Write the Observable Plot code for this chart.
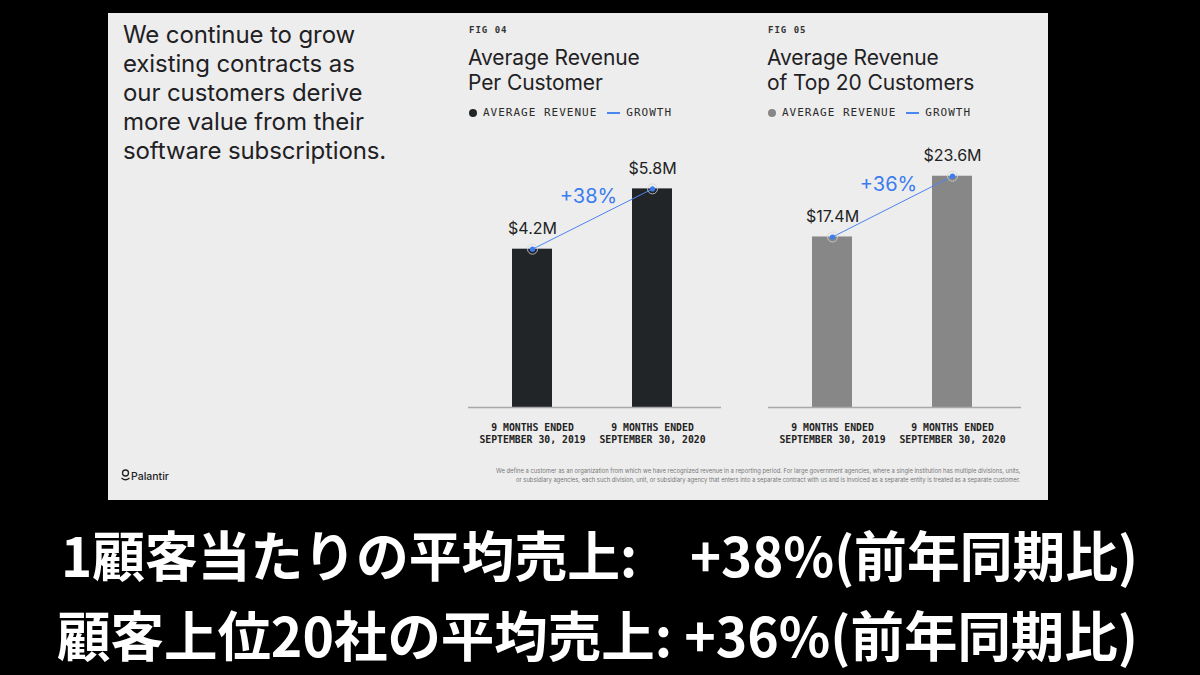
<!DOCTYPE html>
<html>
<head>
<meta charset="utf-8">
<script src="https://cdn.jsdelivr.net/npm/d3@7"></script>
<script src="https://cdn.jsdelivr.net/npm/@observablehq/plot@0.6"></script>
<style>
  html, body { margin:0; padding:0; }
  body { width:1200px; height:675px; background:#000; position:relative; overflow:hidden; font-family: Inter, "Noto Sans", sans-serif; }
  .abs { position:absolute; }
  #slide { left:108px; top:13px; width:940px; height:487px; background:#ededed; }
  .lead { left:123px; top:20px; font-size:24px; line-height:29px; color:#1f2124; letter-spacing:-0.1px; }
  .fig { font-family:"DejaVu Sans Mono", monospace; font-weight:bold; font-size:9px; letter-spacing:1px; color:#333; line-height:10px; }
  .title { font-size:21px; line-height:25px; color:#1f2124; letter-spacing:-0.1px; }
  .legend { display:flex; align-items:center; font-family:"DejaVu Sans Mono", monospace; font-size:11px; letter-spacing:1.0px; color:#2a2a2a; line-height:12px; white-space:nowrap; }
  .legend .dot { width:8px; height:8px; border-radius:50%; margin-right:6px; }
  .legend .ln { width:13px; height:1.5px; background:#4a86f0; margin:0 6px 0 10px; }
</style>
</head>
<body>
<div id="slide" class="abs"></div>
<div class="abs lead">We continue to grow<br>existing contracts as<br>our customers derive<br>more value from their<br>software subscriptions.</div>

<div class="abs fig" style="left:469px;top:25px;">FIG 04</div>
<div class="abs title" style="left:468px;top:45px;">Average Revenue<br>Per Customer</div>
<div class="abs legend" style="left:469px;top:107px;"><span class="dot" style="background:#222528"></span>AVERAGE REVENUE<span class="ln"></span>GROWTH</div>

<div class="abs fig" style="left:768px;top:25px;">FIG 05</div>
<div class="abs title" style="left:767px;top:45px;">Average Revenue<br>of Top 20 Customers</div>
<div class="abs legend" style="left:768px;top:107px;"><span class="dot" style="background:#878787"></span>AVERAGE REVENUE<span class="ln"></span>GROWTH</div>

<div id="chart1" class="abs" style="left:448px;top:140px;"></div>
<div id="chart2" class="abs" style="left:748px;top:140px;"></div>

<svg class="abs" style="left:0;top:0" width="1200" height="675">
  <g fill="none" stroke="#222" stroke-width="1.3">
    <circle cx="125.5" cy="473" r="3"></circle>
    <path d="M121.5 478 Q125.5 481.5 129.5 478"></path>
  </g>
  <text x="131" y="479.5" font-family="Inter, sans-serif" font-size="10.5" font-weight="500" fill="#222">Palantir</text>
  <g font-family="Inter, 'Liberation Sans', sans-serif" font-size="6" fill="#777">
    <text x="496" y="473" textLength="524.5" lengthAdjust="spacingAndGlyphs">We define a customer as an organization from which we have recognized revenue in a reporting period. For large government agencies, where a single institution has multiple divisions, units,</text>
    <text x="516" y="481.5" textLength="504.5" lengthAdjust="spacingAndGlyphs">or subsidiary agencies, each such division, unit, or subsidiary agency that enters into a separate contract with us and is invoiced as a separate entity is treated as a separate customer.</text>
  </g>
  <g font-family="'Noto Sans CJK JP', sans-serif" font-weight="bold" font-size="54" fill="#fff">
    <text x="61" y="577" textLength="1077" lengthAdjust="spacingAndGlyphs">1顧客当たりの平均売上:　+38%(前年同期比)</text>
    <text x="57" y="657" textLength="1081" lengthAdjust="spacingAndGlyphs">顧客上位20社の平均売上: +36%(前年同期比)</text>
  </g>
</svg>

<script>
// ---- data ----
const periods = ["9 MONTHS ENDED\nSEPTEMBER 30, 2019", "9 MONTHS ENDED\nSEPTEMBER 30, 2020"];
const avgRevenue = [4.2, 5.8];        // $M, average revenue per customer
const top20Revenue = [17.4, 23.6];    // $M, average revenue of top 20 customers
const growthPct = [38, 36];           // % growth labels
const yMaxes = [6.5, 25];

function chart(values, color, yMax, growth) {
  const data = periods.map((p, i) => ({period: p, value: values[i]}));
  const mid = (values[0] + values[1]) / 2;
  const blue = "#3b7cf0";
  return Plot.plot({
    width: 293, height: 320,
    marginLeft: 20, marginRight: 20, marginTop: 22, marginBottom: 53,
    style: {background: "transparent", fontFamily: "Inter, sans-serif", overflow: "visible"},
    x: {domain: periods, range: [23.6, 263.6], paddingInner: 2/3, paddingOuter: 1/3, label: null, axis: null},
    y: {domain: [0, yMax], axis: null},
    marks: [
      Plot.barY(data, {x: "period", y: "value", fill: color}),
      Plot.ruleY([0], {stroke: "#a8a8a8", strokeWidth: 1.5}),
      Plot.axisX({tickSize: 0, tickPadding: 14, lineHeight: 1.3, fontSize: 9.8, fontWeight: "bold",
                  fontFamily: "'DejaVu Sans Mono', monospace", fill: "#222", label: null}),
      Plot.line(data, {x: "period", y: "value", stroke: "#4a86f0", strokeWidth: 1}),
      Plot.dot(data, {x: "period", y: "value", r: 5, fill: "none", stroke: "#d4d4d4", strokeWidth: 1, strokeOpacity: 0.8}),
      Plot.dot(data, {x: "period", y: "value", r: 2.6, fill: blue}),
      Plot.text(data, {x: "period", y: "value", text: d => `$${d.value.toFixed(1)}M`, dy: -20, fontSize: 16, fill: "#222"}),
      Plot.text([growth], {x: () => periods[1], y: () => mid, text: d => `+${d}%`, dx: -64, dy: -22, fontSize: 20, fill: blue})
    ]
  });
}

document.getElementById("chart1").append(chart(avgRevenue, "#222528", yMaxes[0], growthPct[0]));
document.getElementById("chart2").append(chart(top20Revenue, "#878787", yMaxes[1], growthPct[1]));
</script>
</body>
</html>
